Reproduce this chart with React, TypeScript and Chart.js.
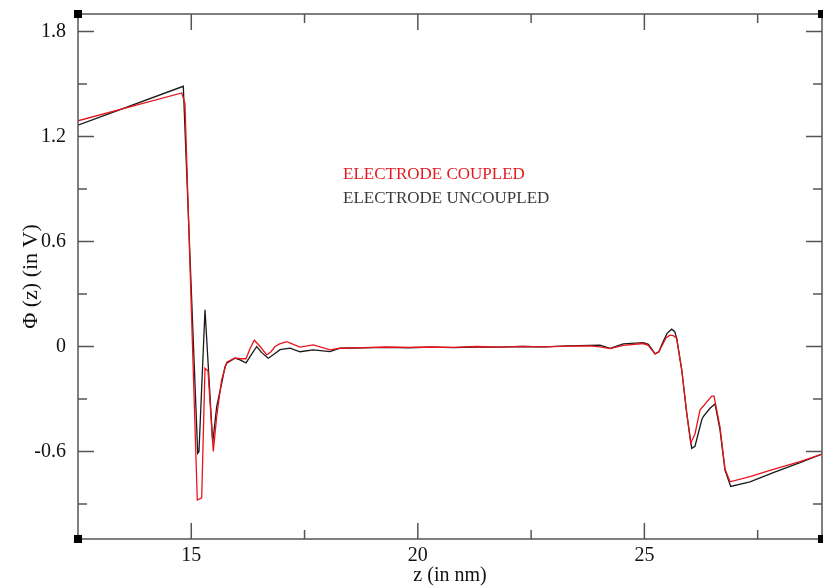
import { useEffect, useRef } from "react";
import { Chart, registerables } from "chart.js";

Chart.register(...registerables);

// ---- data ----
const zUncoupled = [
  12.5, 14.824, 15.142, 15.17, 15.303, 15.473, 15.561, 15.671, 15.744, 15.782,
  15.965, 16.075, 16.208, 16.33, 16.444, 16.554, 16.7, 16.848, 16.958, 17.179, 17.4, 17.693, 18.062,
  18.282, 18.8, 19.3, 19.8, 20.3, 20.8, 21.3, 21.8, 22.3, 22.8, 23.3, 23.8,
  24.021, 24.242, 24.535, 24.976, 25.087, 25.15, 25.235, 25.32, 25.4, 25.5, 25.603, 25.67, 25.713, 25.824,
  25.934, 26.044, 26.117, 26.265, 26.3, 26.448, 26.559, 26.669, 26.779, 26.905,
  27.33, 27.845, 28.434, 28.92,
];
const phiUncoupled = [
  1.265, 1.487, -0.61, -0.6, 0.21, -0.55, -0.344, -0.21, -0.115, -0.095,
  -0.067, -0.077, -0.094, -0.045, 0.0, -0.035, -0.067, -0.04, -0.018, -0.009, -0.03, -0.019, -0.029,
  -0.01, -0.008, -0.005, -0.007, -0.004, -0.006, -0.003, -0.004, 0.0, -0.002, 0.003, 0.006,
  0.008, -0.01, 0.015, 0.022, 0.012, -0.01, -0.042, -0.03, 0.02, 0.075, 0.099, 0.085, 0.047, -0.133,
  -0.38, -0.582, -0.57, -0.42, -0.4, -0.353, -0.328, -0.477, -0.706, -0.8,
  -0.773, -0.721, -0.664, -0.615,
];

const zCoupled = [
  12.5, 14.789, 14.86, 15.133, 15.23, 15.303, 15.369, 15.486, 15.561, 15.671,
  15.782, 15.965, 16.075, 16.208, 16.3, 16.391, 16.52, 16.665, 16.76, 16.848, 16.95, 17.106, 17.4, 17.693,
  18.062, 18.282, 18.8, 19.3, 19.8, 20.3, 20.8, 21.3, 21.8, 22.3, 22.8, 23.3, 23.8,
  24.021, 24.242, 24.535, 24.976, 25.087, 25.15, 25.235, 25.32, 25.4, 25.48, 25.566, 25.64, 25.713, 25.824,
  25.934, 26.022, 26.117, 26.227, 26.486, 26.537, 26.669, 26.779, 26.89,
  27.33, 27.845, 28.434, 28.92,
];
const phiCoupled = [
  1.29, 1.449, 1.39, -0.877, -0.865, -0.124, -0.14, -0.6, -0.4, -0.19,
  -0.09, -0.065, -0.07, -0.07, -0.01, 0.036, 0.0, -0.048, -0.03, 0.0, 0.015, 0.028, -0.003, 0.009,
  -0.019, -0.01, -0.006, -0.003, -0.005, -0.003, -0.005, 0.0, -0.003, 0.001, -0.002, 0.002, 0.004,
  -0.002, -0.012, 0.006, 0.017, 0.006, -0.015, -0.042, -0.03, 0.01, 0.05, 0.065, 0.062, 0.047, -0.133,
  -0.38, -0.553, -0.5, -0.363, -0.283, -0.283, -0.46, -0.7, -0.773,
  -0.744, -0.702, -0.658, -0.615,
];

const seriesLabels = ["ELECTRODE COUPLED", "ELECTRODE UNCOUPLED"];
const seriesColors = ["#e8141b", "#1a1a1a"];
const legendColors = ["#e01b22", "#3a3a3a"];

const xMajorTicks = [15, 20, 25];
const xMinorTicks = [17.5, 22.5, 27.5];
const yMajorTicks = [-0.6, 0, 0.6, 1.2, 1.8];
const yMinorTicks = [-0.9, -0.3, 0.3, 0.9, 1.5];
const xRange = [12.5, 28.92];
const yRange = [-1.1, 1.9];
const xTitle = "z (in nm)";
const yTitle = "\u03A6 (z) (in V)";

const FONT = '"Liberation Serif", "Times New Roman", serif';

const framePlugin = {
  id: "graceFrame",
  afterDraw(chart: any) {
    const { ctx, chartArea, scales } = chart;
    const { left, right, top, bottom } = chartArea;
    const xs = scales.x;
    const ys = scales.y;
    ctx.save();
    ctx.strokeStyle = "#555";
    ctx.lineWidth = 1.5;
    ctx.strokeRect(left, top, right - left, bottom - top);
    ctx.beginPath();
    const major = 16;
    const minor = 9;
    xMajorTicks.forEach((v) => {
      const p = xs.getPixelForValue(v);
      ctx.moveTo(p, bottom); ctx.lineTo(p, bottom - major);
      ctx.moveTo(p, top); ctx.lineTo(p, top + major);
    });
    xMinorTicks.forEach((v) => {
      const p = xs.getPixelForValue(v);
      ctx.moveTo(p, bottom); ctx.lineTo(p, bottom - minor);
      ctx.moveTo(p, top); ctx.lineTo(p, top + minor);
    });
    yMajorTicks.forEach((v) => {
      const p = ys.getPixelForValue(v);
      ctx.moveTo(left, p); ctx.lineTo(left + major, p);
      ctx.moveTo(right, p); ctx.lineTo(right - major, p);
    });
    yMinorTicks.forEach((v) => {
      const p = ys.getPixelForValue(v);
      ctx.moveTo(left, p); ctx.lineTo(left + minor, p);
      ctx.moveTo(right, p); ctx.lineTo(right - minor, p);
    });
    ctx.stroke();

    ctx.fillStyle = "#000";
    [[left, top], [right, top], [left, bottom], [right, bottom]].forEach(([cx, cy]) => {
      ctx.fillRect(cx - 4, cy - 4, 8, 8);
    });

    // legend text
    ctx.font = `17px ${FONT}`;
    ctx.textAlign = "left";
    ctx.textBaseline = "alphabetic";
    ctx.fillStyle = legendColors[0];
    ctx.fillText(seriesLabels[0], 343, 179);
    ctx.fillStyle = legendColors[1];
    ctx.fillText(seriesLabels[1], 343, 203);

    // axis titles
    ctx.fillStyle = "#111";
    ctx.textAlign = "center";
    ctx.textBaseline = "middle";
    ctx.font = `20px ${FONT}`;
    ctx.fillText(xTitle, (left + right) / 2, 576);
    ctx.font = `22px ${FONT}`;
    ctx.translate(31, (top + bottom) / 2);
    ctx.rotate(-Math.PI / 2);
    ctx.fillText(yTitle, 0, 0);
    ctx.restore();
  },
};

export default function App() {
  const canvasRef = useRef<HTMLCanvasElement | null>(null);

  useEffect(() => {
    document.body.style.margin = "0";
    const canvas = canvasRef.current;
    if (!canvas) return;
    const coupled = zCoupled.map((z, i) => ({ x: z, y: phiCoupled[i] }));
    const uncoupled = zUncoupled.map((z, i) => ({ x: z, y: phiUncoupled[i] }));
    const chart = new Chart(canvas, {
      type: "line",
      data: {
        datasets: [
          {
            label: seriesLabels[0],
            data: coupled,
            borderColor: seriesColors[0],
            borderWidth: 1.3,
            pointRadius: 0,
            fill: false,
            tension: 0,
            order: 1,
          },
          {
            label: seriesLabels[1],
            data: uncoupled,
            borderColor: seriesColors[1],
            borderWidth: 1.3,
            pointRadius: 0,
            fill: false,
            tension: 0,
            order: 2,
          },
        ],
      },
      options: {
        responsive: false,
        animation: false,
        devicePixelRatio: 1,
        layout: { padding: { top: 14, right: 1, left: 0, bottom: 0 } },
        plugins: { legend: { display: false }, tooltip: { enabled: false } },
        scales: {
          x: {
            type: "linear",
            min: xRange[0],
            max: xRange[1],
            grid: { display: false, drawTicks: false },
            border: { display: false },
            afterBuildTicks: (s: any) => {
              s.ticks = xMajorTicks.map((v) => ({ value: v }));
            },
            afterFit: (s: any) => {
              s.height = 48;
              s.paddingLeft = 0;
              s.paddingRight = 0;
              s.paddingTop = 0;
              s.paddingBottom = 0;
            },
            ticks: {
              autoSkip: false,
              maxRotation: 0,
              padding: 5,
              color: "#111",
              font: { family: FONT, size: 20 },
              callback: (v: any) => String(v),
            },
          },
          y: {
            type: "linear",
            min: yRange[0],
            max: yRange[1],
            grid: { display: false, drawTicks: false },
            border: { display: false },
            afterBuildTicks: (s: any) => {
              s.ticks = yMajorTicks.map((v) => ({ value: v }));
            },
            afterFit: (s: any) => {
              s.width = 78;
              s.paddingLeft = 0;
              s.paddingRight = 0;
              s.paddingTop = 0;
              s.paddingBottom = 0;
            },
            ticks: {
              autoSkip: false,
              padding: 12,
              color: "#111",
              font: { family: FONT, size: 20 },
              callback: (v: any) => (Math.abs(v) < 1e-9 ? "0" : Number(v).toFixed(1)),
            },
          },
        },
      },
      plugins: [framePlugin],
    });
    return () => chart.destroy();
  }, []);

  return (
    <div style={{ position: "relative", width: 823, height: 587 }}>
      <canvas ref={canvasRef} width={823} height={587} />
    </div>
  );
}
